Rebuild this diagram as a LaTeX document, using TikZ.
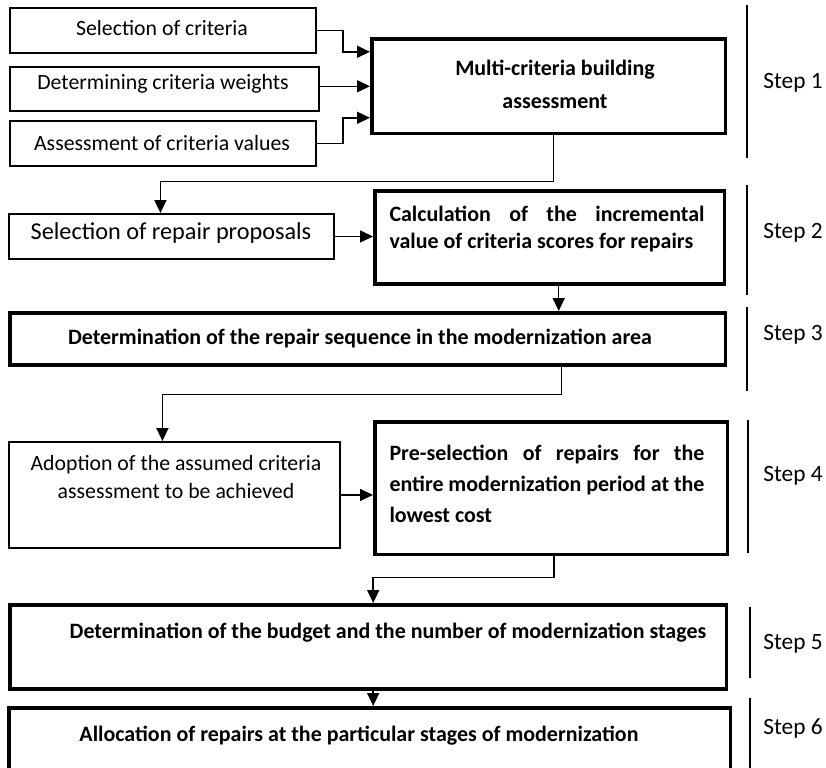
\documentclass[tikz,border=0pt]{standalone}
\usepackage{fontspec}
\setmainfont{Carlito}
\usetikzlibrary{arrows.meta,calc}
\tikzset{
  box/.style={draw, line width=1.1pt, anchor=north west, inner sep=0pt},
  mainbox/.style={draw, line width=2pt, anchor=north west, inner sep=0pt},
  arr/.style={line width=0.85pt, -{Triangle[length=0.26cm,width=0.24cm]}},
  stepline/.style={line width=0.7pt},
  txt/.style={font=\fontsize{12.4}{16.4}\selectfont, align=center},
  boldtxt/.style={font=\fontsize{12.5}{16}\selectfont\bfseries, align=center},
  steptxt/.style={font=\fontsize{13.3}{16}\selectfont, anchor=west, inner sep=0pt}
}
\begin{document}
\begin{tikzpicture}[x=0.02cm, y=-0.02cm]
  \clip (0,0) rectangle (826,768);
  \node[box, minimum width=6.12cm, minimum height=0.9cm] (sel) at (9,7) {};
  \node[box, minimum width=6.18cm, minimum height=0.88cm] (wgt) at (9,66) {};
  \node[box, minimum width=6.12cm, minimum height=0.9cm] (val) at (9,120) {};
  \node[mainbox, minimum width=7.08cm, minimum height=1.9cm] (m1) at (370,37) {};
  \node[box, minimum width=6.5cm, minimum height=0.9cm] (rep) at (8,213) {};
  \node[mainbox, minimum width=7cm, minimum height=1.86cm] (m2) at (373,189) {};
  \node[mainbox, minimum width=14.32cm, minimum height=1.04cm] (m3) at (8,311) {};
  \node[box, minimum width=6.62cm, minimum height=2.12cm] (ado) at (8,441) {};
  \node[mainbox, minimum width=7.06cm, minimum height=2.66cm] (m4) at (373,420) {};
  \node[mainbox, minimum width=14.34cm, minimum height=1.68cm] (m5) at (8,603) {};
  \node[mainbox, minimum width=14.44cm, minimum height=1.68cm] (m6) at (7,706) {};

  \node[txt] (selt) at (162,28) {Selection of criteria};
  \node[txt] (wgtt) at (163,84) {Determining criteria weights};
  \node[txt] (valt) at (162,143) {Assessment of criteria values};
  \node[boldtxt, font=\fontsize{12.5}{18.7}\selectfont\bfseries] (m1t) at (555,84) {Multi-criteria building\\assessment};
  \node[txt, font=\fontsize{13.8}{16.4}\selectfont] (rept) at (171,233) {Selection of repair proposals};
  \node[boldtxt, font=\fontsize{12.5}{15.9}\selectfont\bfseries, align=justify, text width=6.3cm] (m2t) at (547,229) {\parfillskip=0pt Calculation of the incremental\linebreak value of criteria scores for repairs};
  \node[boldtxt] (m3t) at (360,338) {Determination of the repair sequence in the modernization area};
  \node[txt] (adot) at (176,477) {Adoption of the assumed criteria\\assessment to be achieved};
  \node[boldtxt, font=\fontsize{12.5}{17.6}\selectfont\bfseries, align=justify, text width=6.3cm] (m4t) at (547,484) {Pre-selection of repairs for the\linebreak entire modernization period at the\linebreak lowest cost};
  \node[boldtxt] (m5t) at (388,633) {Determination of the budget and the number of modernization stages};
  \node[boldtxt] (m6t) at (359,736) {Allocation of repairs at the particular stages of modernization};

  \coordinate (m1out) at ($(m1.south)+(5,0)$);
  \coordinate (repin) at ($(rep.north)+(-11,0)$);
  \coordinate (m2out) at ($(m2.south)+(9,0)$);
  \coordinate (m3out) at ($(m3.south)+(194,0)$);
  \coordinate (adoin) at ($(ado.north)+(-12,0)$);
  \coordinate (m4out) at ($(m4.south)+(3,0)$);
  \coordinate (m5in) at ($(m5.north)+(5,0)$);

  \draw[arr] (sel.east) -- ++(26,0) |- ($(m1.north west)!0.15!(m1.south west)$);
  \draw[arr] (m1.west -| wgt.east) -- (m1.west);
  \draw[arr] (val.east) -- ++(26,0) |- ($(m1.north west)!0.82!(m1.south west)$);
  \draw[arr] (m1out) -- ++(0,46) -| (repin);
  \draw[arr] (rep.east) -- (rep.east -| m2.west);
  \draw[arr] (m2out) -- (m2out |- m3.north);
  \draw[arr] (m3out) -- ++(0,28) -| (adoin);
  \draw[arr] (ado.east) -- (ado.east -| m4.west);
  \draw[arr] (m4out) -- ++(0,21) -| (m5in);
  \draw[arr] (m5.south -| m5in) -- (m6.north -| m5in);

  \foreach \x/\a/\b in {747/5/158, 747/185/295, 747/307/391, 748/420/553, 750/607/678, 750/698/780}
    \draw[stepline] (\x,\a) -- (\x,\b);
  \foreach \n/\y in {1/83, 2/233, 3/335, 4/476, 5/644, 6/728}
    \node[steptxt] (s\n) at (763,\y) {Step \n};
\end{tikzpicture}
\end{document}
